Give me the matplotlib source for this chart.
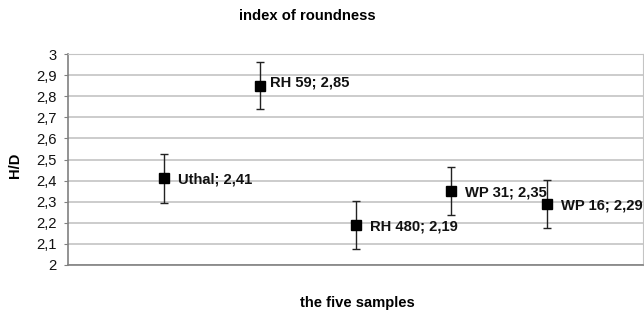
import matplotlib
matplotlib.use("Agg")
import matplotlib.pyplot as plt
from matplotlib.ticker import FuncFormatter

plt.rcParams['font.family'] = ['Liberation Sans', 'DejaVu Sans']

samples = ["Uthal", "RH 59", "RH 480", "WP 31", "WP 16"]
values = [2.41, 2.85, 2.19, 2.35, 2.29]
errors = [0.115, 0.112, 0.115, 0.114, 0.113]
positions = [1, 2, 3, 4, 5]

FS = 10.6

fig = plt.figure(figsize=(6.44, 3.16), dpi=100)
ax = fig.add_axes([68/644, 1-265/316, 575/644, 211/316])

ax.errorbar(positions, values, yerr=errors, fmt='s', color='black',
            ecolor='#222222', elinewidth=1.0, capsize=3, capthick=1.0,
            markersize=7.3, zorder=3)

# label offsets in pixels (dx, dy)
label_offsets = {"RH 59": (10, 3.5)}
for x, v, s in zip(positions, values, samples):
    dx, dy = label_offsets.get(s, (14, -1.5))
    ax.annotate(f"{s}; {str(v).replace('.', ',')}", (x, v), xytext=(dx, dy),
                textcoords='offset pixels', ha='left', va='center',
                fontsize=FS, fontweight='bold', color='#111111',
                annotation_clip=False)

ax.set_xlim(0, 6)
ax.set_ylim(2, 3)
ax.set_yticks([2 + i * 0.1 for i in range(11)])
ax.yaxis.set_major_formatter(FuncFormatter(
    lambda v, p: ('%g' % round(v, 1)).replace('.', ',')))
ax.set_xticks([])
ax.grid(axis='y', color='#c4c4c4', linewidth=1.2)
ax.set_axisbelow(True)
for side in ['top', 'right']:
    ax.spines[side].set_color('#c4c4c4')
for side in ['left', 'bottom']:
    ax.spines[side].set_color('#808080')
    ax.spines[side].set_linewidth(1.2)
ax.tick_params(axis='y', labelsize=FS, length=3, color='#808080', pad=5,
               labelcolor='#111111')

fig.text(15/644, 1 - 165/316, "H/D", rotation=90, ha='center', va='center',
         fontsize=FS, fontweight='bold')
fig.text(357/644, 1 - 303/316, "the five samples", ha='center',
         va='center', fontsize=FS, fontweight='bold')
fig.text(307/644, 1 - 16/316, "index of roundness", ha='center',
         va='center', fontsize=FS, fontweight='bold')

fig.savefig("out.png", dpi=100)
